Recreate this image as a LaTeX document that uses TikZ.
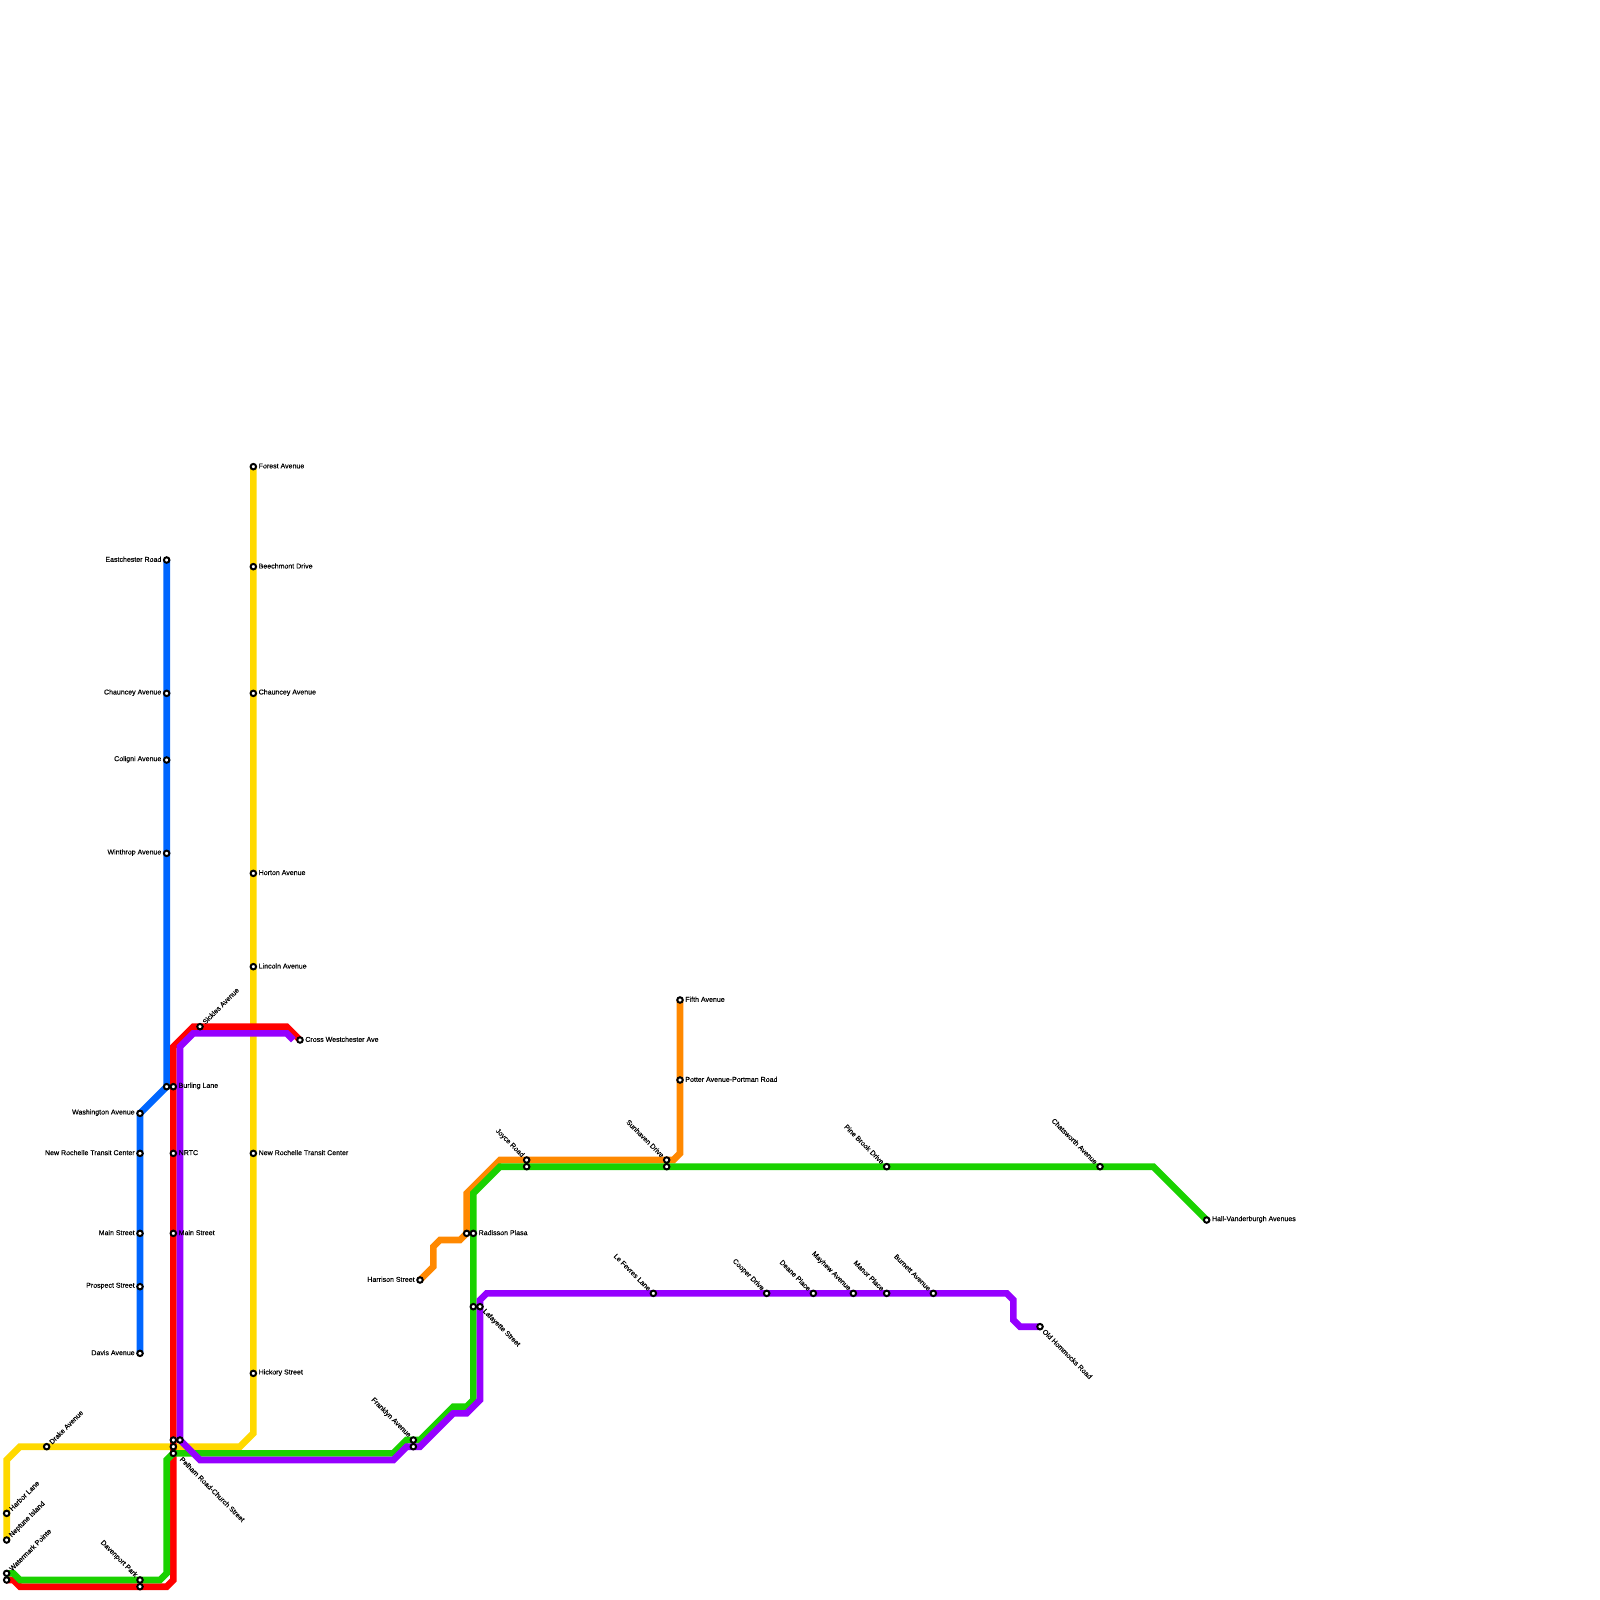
\documentclass[tikz,border=0pt]{standalone}
\usepackage{fontspec}
\setmainfont[FakeBold=0.3]{Liberation Sans}
\usetikzlibrary{backgrounds}

\begin{document}
\begin{tikzpicture}[x=6.6667pt, y=-6.6667pt,
  stn/.style={circle, draw=black, fill=white, line width=2pt, inner sep=0pt, minimum size=5.5pt},
  lbl/.style={inner sep=1.4pt, font=\fontsize{7.03}{8}\selectfont},
  toright/.style={lbl, anchor=west, yshift=0.7pt},
  toleft/.style={lbl, anchor=east, yshift=0.7pt},
  upright/.style={lbl, anchor=west, rotate=45},
  upleft/.style={lbl, anchor=east, rotate=-45},
  downright/.style={lbl, anchor=west, rotate=-45},
  route/.style={line width=6.6667pt, line join=miter, line cap=butt},
  ylw/.style={route, draw={rgb,255:red,255;green,217;blue,0}},
  blu/.style={route, draw={rgb,255:red,0;green,102;blue,255}},
  org/.style={route, draw={rgb,255:red,255;green,136;blue,0}},
  rdl/.style={route, draw=red},
  grn/.style={route, draw={rgb,255:red,26;green,209;blue,0}},
  ppl/.style={route, draw={rgb,255:red,149;green,0;blue,255}}]
\useasboundingbox (0,0) rectangle (240,240);

\node[stn] (forest) at (38,70) {};
\node[stn] (beechmont) at (38,85) {};
\node[stn] (chaunceyy) at (38,104) {};
\node[stn] (horton) at (38,131) {};
\node[stn] (lincoln) at (38,145) {};
\node[stn] (nrtcy) at (38,173) {};
\node[stn] (hickory) at (38,206) {};
\node[stn] (drake) at (7,217) {};
\node[stn] (harbor) at (1,227) {};
\node[stn] (neptune) at (1,231) {};

\node[stn] (eastchester) at (25,84) {};
\node[stn] (chaunceyb) at (25,104) {};
\node[stn] (coligni) at (25,114) {};
\node[stn] (winthrop) at (25,128) {};
\node[stn] (burlingb) at (25,163) {};
\node[stn] (washington) at (21,167) {};
\node[stn] (nrtcb) at (21,173) {};
\node[stn] (mainb) at (21,185) {};
\node[stn] (prospect) at (21,193) {};
\node[stn] (davis) at (21,203) {};

\node[stn] (sickles) at (30,154) {};
\node[stn] (cross) at (45,156) {};
\node[stn] (burling) at (26,163) {};
\node[stn] (nrtc) at (26,173) {};
\node[stn] (mainr) at (26,185) {};
\node[stn] (pelhamr) at (26,216) {};
\node[stn] (pelhamy) at (26,217) {};
\node[stn] (pelham) at (26,218) {};
\node[stn] (pelhamp) at (27,216) {};
\node[stn] (davenport) at (21,237) {};
\node[stn] (davenportr) at (21,238) {};
\node[stn] (watermark) at (1,236) {};
\node[stn] (watermarkr) at (1,237) {};

\node[stn] (franklyn) at (62,216) {};
\node[stn] (franklynp) at (62,217) {};
\node[stn] (radissono) at (70,185) {};
\node[stn] (radisson) at (71,185) {};
\node[stn] (lafayetteg) at (71,196) {};
\node[stn] (lafayette) at (72,196) {};
\node[stn] (harrison) at (63,192) {};
\node[stn] (joyce) at (79,174) {};
\node[stn] (joyceg) at (79,175) {};
\node[stn] (sunhaven) at (100,174) {};
\node[stn] (sunhaveng) at (100,175) {};
\node[stn] (fifth) at (102,150) {};
\node[stn] (potter) at (102,162) {};
\node[stn] (pinebrook) at (133,175) {};
\node[stn] (chatsworth) at (165,175) {};
\node[stn] (hall) at (181,183) {};

\node[stn] (lefevres) at (98,194) {};
\node[stn] (cooper) at (115,194) {};
\node[stn] (deane) at (122,194) {};
\node[stn] (mayhew) at (128,194) {};
\node[stn] (manor) at (133,194) {};
\node[stn] (burnett) at (140,194) {};
\node[stn] (hommocks) at (156,199) {};
\coordinate (purpleend) at (44,156);

\node[toright] (forestl) at (forest.east) {Forest Avenue};
\node[toright] (beechmontl) at (beechmont.east) {Beechmont Drive};
\node[toright] (chaunceyyl) at (chaunceyy.east) {Chauncey Avenue};
\node[toright] (hortonl) at (horton.east) {Horton Avenue};
\node[toright] (lincolnl) at (lincoln.east) {Lincoln Avenue};
\node[toright] (nrtcyl) at (nrtcy.east) {New Rochelle Transit Center};
\node[toright] (hickoryl) at (hickory.east) {Hickory Street};
\node[upright] (drakel) at (drake.45) {Drake Avenue};
\node[upright] (harborl) at (harbor.45) {Harbor Lane};
\node[upright] (neptunel) at (neptune.45) {Neptune Island};
\node[toleft] (eastchesterl) at (eastchester.west) {Eastchester Road};
\node[toleft] (chaunceybl) at (chaunceyb.west) {Chauncey Avenue};
\node[toleft] (colignil) at (coligni.west) {Coligni Avenue};
\node[toleft] (winthropl) at (winthrop.west) {Winthrop Avenue};
\node[toleft] (washingtonl) at (washington.west) {Washington Avenue};
\node[toleft] (nrtcbl) at (nrtcb.west) {New Rochelle Transit Center};
\node[toleft] (mainbl) at (mainb.west) {Main Street};
\node[toleft] (prospectl) at (prospect.west) {Prospect Street};
\node[toleft] (davisl) at (davis.west) {Davis Avenue};
\node[upright] (sicklesl) at (sickles.45) {Sickles Avenue};
\node[toright] (crossl) at (cross.east) {Cross Westchester Ave};
\node[toright] (burlingl) at (burling.east) {Burling Lane};
\node[toright] (nrtcl) at (nrtc.east) {NRTC};
\node[toright] (mainrl) at (mainr.east) {Main Street};
\node[downright, xshift=3.6pt, yshift=2.1pt] (pelhaml) at (pelham.-45) {Pelham Road-Church Street};
\node[upleft] (davenportl) at (davenport.135) {Davenport Park};
\node[upright] (watermarkl) at (watermark.45) {Watermark Pointe};
\node[upleft] (franklynl) at (franklyn.135) {Franklyn Avenue};
\node[toright] (radissonl) at (radisson.east) {Radisson Plasa};
\node[downright] (lafayettel) at (lafayette.-45) {Lafayette Street};
\node[toleft] (harrisonl) at (harrison.west) {Harrison Street};
\node[upleft] (joycel) at (joyce.135) {Joyce Road};
\node[upleft] (sunhavenl) at (sunhaven.135) {Sunhaven Drive};
\node[toright] (fifthl) at (fifth.east) {Fifth Avenue};
\node[toright] (potterl) at (potter.east) {Potter Avenue-Portman Road};
\node[upleft] (pinebrookl) at (pinebrook.135) {Pine Brook Drive};
\node[upleft] (chatsworthl) at (chatsworth.135) {Chatsworth Avenue};
\node[toright] (halll) at (hall.east) {Hall-Vanderburgh Avenues};
\node[upleft] (lefevresl) at (lefevres.135) {Le Fevres Lane};
\node[upleft] (cooperl) at (cooper.135) {Cooper Drive};
\node[upleft] (deanel) at (deane.135) {Deane Place};
\node[upleft] (mayhewl) at (mayhew.135) {Mayhew Avenue};
\node[upleft] (manorl) at (manor.135) {Manor Place};
\node[upleft] (burnettl) at (burnett.135) {Burnett Avenue};
\node[downright] (hommocksl) at (hommocks.-45) {Old Hommocks Road};

\begin{pgfonlayer}{background}
\draw[ylw] (forest.center) -- (38,215) -- (36,217) -- (3,217) -- (1,219) -- (neptune.center);
\draw[blu] (eastchester.center) -- (burlingb.center) -- (washington.center) -- (davis.center);
\draw[org] (fifth.center) -- (102,173) -- (101,174) -- (75,174) -- (70,179) -- (70,185) -- (69,186) -- (66,186) -- (65,187) -- (65,190) -- (harrison.center);
\draw[rdl] (watermarkr.center) -- (2,237) -- (3,238) -- (25,238) -- (26,237) -- (26,157) -- (29,154) -- (43,154) -- (cross.center);
\draw[grn] (watermark.center) -- (2,236) -- (3,237) -- (24,237) -- (25,236) -- (25,219) -- (pelham.center) -- (59,218) -- (61,216) -- (63,216) -- (68,211) -- (70,211) -- (71,210) -- (71,179) -- (75,175) -- (173,175) -- (hall.center);
\draw[ppl] (purpleend) -- (43,155) -- (29,155) -- (27,157) -- (pelhamp.center) -- (30,219) -- (59,219) -- (61,217) -- (63,217) -- (68,212) -- (70,212) -- (72,210) -- (72,195) -- (73,194) -- (151,194) -- (152,195) -- (152,198) -- (153,199) -- (hommocks.center);
\end{pgfonlayer}
\end{tikzpicture}
\end{document}
